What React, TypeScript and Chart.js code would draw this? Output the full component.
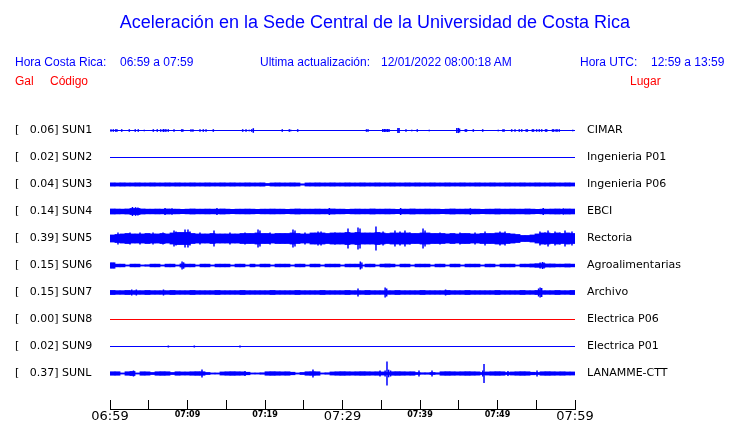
import React, { useEffect, useRef } from 'react';
import { Chart, registerables } from 'chart.js';

Chart.register(...registerables);

// ---------------- data ----------------
const STATION_CODES = ['SUN1', 'SUN2', 'SUN3', 'SUN4', 'SUN5', 'SUN6', 'SUN7', 'SUN8', 'SUN9', 'SUNL'];
const STATION_PLACES = ['CIMAR', 'Ingenieria P01', 'Ingenieria P06', 'EBCI', 'Rectoria', 'Agroalimentarias', 'Archivo', 'Electrica P06', 'Electrica P01', 'LANAMME-CTT'];
const PEAK_GAL = [0.06, 0.02, 0.04, 0.14, 0.39, 0.15, 0.15, 0.0, 0.02, 0.37];
const TIME_TICK_LABELS = ['06:59', '07:09', '07:19', '07:29', '07:39', '07:49', '07:59'];
const WINDOW_MINUTES = 60;

// continuous band: half amplitude (mGal) for each equal time bin across the window
const SUN1_BAND: number[] = [];
const SUN2_BAND: number[] = [];
const SUN3_BAND = [
  50, 47, 50, 47, 47, 50, 47, 47, 50, 47,
  47, 50, 47, 50, 47, 47, 50, 47, 47, 50,
  47, 47, 50, 47, 50, 47, 47, 50, 47, 47,
  50, 31, 47, 50, 47, 47, 50, 47, 20, 47,
  47, 50, 47, 47, 50, 47, 47, 50, 47, 47,
  50, 47, 47, 50, 47, 47, 50, 47, 47, 50,
  47, 50, 47, 47, 50, 47, 47, 50, 47, 47,
  50, 47, 47, 50, 47, 47, 50, 47, 47, 50,
  47, 47, 50, 47, 47, 50, 47, 47, 50, 47,
  47, 50, 47,
];
const SUN4_BAND = [
  78, 75, 72, 78, 94, 94, 78, 72, 72, 75,
  72, 78, 72, 72, 66, 72, 78, 72, 72, 75,
  72, 72, 78, 72, 66, 72, 72, 75, 72, 66,
  72, 72, 75, 72, 72, 66, 72, 78, 72, 72,
  72, 75, 72, 72, 78, 72, 72, 66, 72, 75,
  72, 72, 78, 72, 72, 75, 72, 66, 72, 72,
  78, 72, 72, 75, 72, 72, 66, 72, 78, 72,
  72, 75, 72, 72, 66, 72, 72, 78, 72, 72,
  75, 72, 72, 78, 72, 66, 72, 72, 75, 78,
  72, 78, 75,
];
const SUN5_BAND = [
  109, 125, 141, 156, 141, 141, 141, 156, 141, 141,
  156, 141, 172, 188, 188, 188, 156, 141, 141, 141,
  156, 141, 141, 141, 141, 141, 156, 156, 156, 172,
  156, 156, 141, 156, 156, 156, 172, 156, 141, 141,
  172, 172, 172, 156, 172, 172, 172, 188, 172, 188,
  172, 172, 172, 188, 172, 156, 172, 172, 172, 172,
  156, 156, 172, 172, 156, 156, 156, 141, 156, 141,
  156, 156, 141, 141, 156, 156, 156, 172, 172, 156,
  141, 125, 94, 94, 109, 141, 172, 172, 156, 172,
  156, 172, 156,
];
const SUN6_BAND = [
  84, 41, 41, 16, 41, 41, 16, 22, 41, 41,
  16, 41, 41, 16, 47, 41, 41, 16, 41, 41,
  16, 41, 41, 41, 16, 41, 41, 16, 41, 22,
  41, 41, 16, 41, 41, 41, 16, 41, 41, 16,
  41, 41, 16, 41, 41, 41, 16, 41, 41, 41,
  16, 41, 41, 16, 41, 47, 41, 16, 41, 41,
  16, 41, 41, 41, 16, 41, 41, 16, 41, 41,
  16, 41, 41, 41, 16, 41, 41, 16, 41, 41,
  41, 16, 41, 41, 47, 56, 56, 47, 47, 41,
  41, 47, 41,
];
const SUN7_BAND = [
  63, 56, 56, 63, 56, 56, 56, 63, 56, 56,
  56, 56, 63, 56, 56, 56, 63, 56, 56, 56,
  56, 63, 56, 56, 56, 56, 63, 56, 56, 56,
  56, 56, 63, 56, 56, 56, 56, 63, 56, 56,
  56, 56, 63, 56, 56, 56, 56, 63, 56, 56,
  56, 63, 56, 56, 56, 56, 56, 63, 56, 56,
  56, 56, 63, 56, 56, 56, 56, 63, 56, 56,
  56, 63, 56, 56, 56, 56, 56, 63, 56, 56,
  56, 56, 63, 56, 56, 63, 56, 56, 56, 63,
  56, 56, 63,
];
const SUN8_BAND: number[] = [];
const SUN9_BAND: number[] = [];
const SUNL_BAND = [
  53, 53, 16, 53, 63, 16, 53, 50, 31, 53,
  56, 53, 31, 53, 47, 47, 53, 56, 53, 31,
  16, 16, 47, 53, 56, 53, 50, 38, 16, 16,
  22, 53, 56, 53, 50, 53, 38, 16, 31, 53,
  56, 53, 16, 22, 47, 53, 56, 53, 50, 53,
  56, 53, 50, 53, 47, 31, 53, 56, 53, 50,
  53, 31, 22, 22, 31, 22, 53, 56, 53, 50,
  53, 56, 53, 50, 31, 47, 53, 56, 53, 31,
  47, 53, 56, 53, 38, 31, 53, 56, 53, 50,
  53, 47, 47,
];

// short transient spikes: [minute after 06:59, half amplitude mGal]
const SUN1_SPIKES: [number, number][] = [
  [0.13, 41], [0.43, 41], [0.74, 41], [0.9, 41], [1.51, 41], [2.49, 41], [3.26, 41], [3.65, 41], [4.43, 25],
  [5.59, 41], [6.1, 41], [6.54, 41], [6.88, 47], [7.1, 41], [7.23, 41], [7.52, 41], [8.26, 41], [9.25, 41],
  [9.4, 41], [10.45, 41], [10.7, 41], [11.61, 41], [12.04, 41], [12.39, 41], [13.33, 41], [17.12, 41],
  [17.55, 41], [17.97, 25], [18.28, 41], [18.49, 72], [22.23, 41], [23.14, 41], [23.32, 25], [24.22, 41],
  [33.1, 41], [33.3, 41], [35.2, 47], [35.4, 47], [35.6, 47], [35.8, 47], [36.0, 47], [37.15, 80], [37.3, 80],
  [38.19, 41], [38.93, 25], [39.65, 41], [41.2, 25], [44.75, 80], [44.95, 80], [45.1, 60], [45.85, 41],
  [46.0, 41], [46.88, 41], [48.09, 41], [50.1, 25], [50.7, 41], [50.85, 41], [51.83, 41], [52.26, 41],
  [52.81, 41], [53.12, 41], [53.7, 41], [53.85, 41], [54.5, 41], [54.65, 41], [55.05, 41], [55.39, 41],
  [55.7, 41], [56.2, 41], [56.35, 41], [57.1, 41], [57.25, 41], [57.55, 41], [57.7, 41], [57.97, 41], [59.7, 25],
];
const SUN2_SPIKES: [number, number][] = [];
const SUN3_SPIKES: [number, number][] = [];
const SUN4_SPIKES: [number, number][] = [
  [2.9, 141], [3.3, 135], [3.6, 125], [7.1, 110], [8.0, 100], [13.8, 110], [28.3, 110], [37.5, 110],
  [46.5, 100], [55.9, 110], [58.5, 100],
];
const SUN5_SPIKES: [number, number][] = [
  [1.03, 188], [2.58, 188], [3.87, 188], [5.55, 188], [6.84, 188], [8.26, 250], [8.52, 219], [9.68, 281],
  [10.06, 281], [10.32, 219], [11.61, 188], [13.42, 250], [15.48, 188], [17.42, 188], [19.1, 281], [19.35, 250],
  [20.65, 188], [23.61, 281], [23.87, 250], [25.16, 188], [26.84, 219], [27.23, 219], [29.03, 188], [30.71, 313],
  [32.0, 344], [32.26, 313], [34.32, 375], [35.23, 219], [36.77, 250], [37.42, 219], [38.06, 250], [38.71, 188],
  [40.39, 313], [40.65, 250], [42.58, 188], [45.16, 188], [47.1, 188], [48.39, 219], [50.32, 219], [50.97, 219],
  [55.48, 219], [56.13, 188], [56.52, 250], [57.42, 219], [58.06, 188], [58.71, 250], [59.61, 219],
];
const SUN6_SPIKES: [number, number][] = [
  [0.2, 84], [0.45, 84], [9.3, 125], [9.5, 100], [32.3, 125], [32.5, 94], [55.5, 94], [55.8, 110], [56.0, 94],
];
const SUN7_SPIKES: [number, number][] = [
  [2.8, 94], [3.4, 94], [6.9, 94], [32.0, 125], [35.5, 156], [35.7, 125], [43.3, 94], [55.3, 125], [55.5, 156], [55.7, 141],
];
const SUN8_SPIKES: [number, number][] = [];
const SUN9_SPIKES: [number, number][] = [[7.53, 31], [10.88, 31], [16.77, 31]];
const SUNL_SPIKES: [number, number][] = [
  [3.03, 94], [11.87, 125], [17.42, 78], [26.19, 125], [34.84, 94], [35.5, 94], [35.74, 375], [35.95, 120],
  [36.2, 94], [39.87, 94], [41.55, 94], [48.1, 94], [48.26, 300], [51.35, 78], [55.1, 94],
];

const BANDS = [SUN1_BAND, SUN2_BAND, SUN3_BAND, SUN4_BAND, SUN5_BAND, SUN6_BAND, SUN7_BAND, SUN8_BAND, SUN9_BAND, SUNL_BAND];
const SPIKES = [SUN1_SPIKES, SUN2_SPIKES, SUN3_SPIKES, SUN4_SPIKES, SUN5_SPIKES, SUN6_SPIKES, SUN7_SPIKES, SUN8_SPIKES, SUN9_SPIKES, SUNL_SPIKES];

// ---------------- style ----------------
const BLUE = '#0000ff';
const RED = '#ff0000';
const TRACE_COLORS = [BLUE, BLUE, BLUE, BLUE, BLUE, BLUE, BLUE, RED, BLUE, BLUE];
const ROW_STEP = 843.75; // mGal between trace rows
const FONT = 'DejaVu Sans';
const HEAD_FONT = 'Liberation Sans';

export default function App() {
  const ref = useRef<HTMLCanvasElement>(null);

  useEffect(() => {
    const canvas = ref.current;
    if (!canvas) return;
    const n = STATION_CODES.length;
    const rowValue = (k: number) => (n - 1 - k) * ROW_STEP;
    const datasets: any[] = [];
    for (let k = 0; k < n; k++) {
      const row = rowValue(k);
      const color = TRACE_COLORS[k];
      datasets.push({
        type: 'line',
        data: [{ x: 0, y: row }, { x: WINDOW_MINUTES, y: row }],
        borderColor: color,
        borderWidth: 1,
        pointRadius: 0,
        xAxisID: 'x',
        yAxisID: 'y',
      });
      const band = BANDS[k];
      if (band.length) {
        const w = WINDOW_MINUTES / band.length;
        datasets.push({
          type: 'bar',
          data: band.map((a, i) => ({ x: (i + 0.5) * w, y: [row - a, row + a] })),
          backgroundColor: color,
          borderWidth: 0,
          barThickness: 5,
          grouped: false,
          inflateAmount: 0.4,
          xAxisID: 'x',
          yAxisID: 'y',
        });
      }
      const sp = SPIKES[k];
      if (sp.length) {
        datasets.push({
          type: 'bar',
          data: sp.map(([t, a]) => ({ x: t, y: [row - a, row + a] })),
          backgroundColor: color,
          borderWidth: 0,
          barThickness: 1.5,
          grouped: false,
          inflateAmount: 0,
          xAxisID: 'x',
          yAxisID: 'y',
        });
      }
    }

    const yMax = (n - 1) * ROW_STEP + (18.5 / 27) * ROW_STEP;
    const yMin = yMax - 11 * ROW_STEP;
    const rowTicks = (scale: any) => {
      const t: any[] = [];
      for (let k = n - 1; k >= 0; k--) t.push({ value: rowValue(k) });
      scale.ticks = t;
    };
    const idx = (v: number) => n - 1 - Math.round(v / ROW_STEP);

    const chart = new Chart(canvas, {
      type: 'bar',
      data: { datasets },
      options: {
        animation: false,
        responsive: false,
        devicePixelRatio: 1,
        layout: { padding: { left: 15, right: 0, top: 112, bottom: 0 } },
        plugins: { legend: { display: false }, tooltip: { enabled: false }, title: { display: false } },
        scales: {
          x: {
            type: 'linear',
            min: 0,
            max: WINDOW_MINUTES,
            offset: false,
            afterFit: (s: any) => { s.height = 14; },
            grid: { display: true, drawOnChartArea: false, drawTicks: true, tickLength: -9, color: '#000', lineWidth: 1, offset: false },
            border: { display: true, color: '#000', width: 1 },
            ticks: {
              stepSize: 5,
              autoSkip: false,
              maxRotation: 0,
              padding: 9,
              color: '#000',
              font: (ctx: any) => (ctx.tick && ctx.tick.value % 30 === 0)
                ? { family: FONT, size: 13, lineHeight: 1.1 }
                : { family: FONT, size: 8, weight: 'bold', lineHeight: 1.5 },
              callback: (v: any) => (Number(v) % 10 === 0 ? TIME_TICK_LABELS[Number(v) / 10] : ''),
            },
          },
          y: {
            type: 'linear',
            position: 'left',
            min: yMin,
            max: yMax,
            afterBuildTicks: rowTicks,
            afterFit: (s: any) => { s.width = 95; s.paddingTop = 0; s.paddingBottom = 0; },
            grid: { display: false, drawTicks: false },
            border: { display: false },
            ticks: {
              autoSkip: false,
              crossAlign: 'far',
              padding: 0,
              color: '#000',
              font: { family: FONT, size: 11 },
              callback: (v: any) => {
                const k = idx(Number(v));
                return `[   ${PEAK_GAL[k].toFixed(2)}] ${STATION_CODES[k]}`;
              },
            },
          },
          yRight: {
            type: 'linear',
            position: 'right',
            min: yMin,
            max: yMax,
            afterBuildTicks: rowTicks,
            afterFit: (s: any) => { s.width = 165; s.paddingTop = 0; s.paddingBottom = 0; },
            grid: { display: false, drawTicks: false },
            border: { display: false },
            ticks: {
              autoSkip: false,
              crossAlign: 'near',
              padding: 12,
              color: '#000',
              font: { family: FONT, size: 11 },
              callback: (v: any) => STATION_PLACES[idx(Number(v))],
            },
          },
        },
      } as any,
    });
    return () => chart.destroy();
  }, []);

  const txt = (left: number, top: number, color: string, size: number, s: string, center = false) => (
    <div
      style={{
        position: 'absolute',
        left: center ? left : left,
        width: center ? 740 : undefined,
        textAlign: center ? 'center' : 'left',
        top,
        color,
        fontFamily: HEAD_FONT,
        fontSize: size,
        lineHeight: 1,
        whiteSpace: 'pre',
      }}
    >
      {s}
    </div>
  );

  return (
    <div style={{ position: 'absolute', left: 0, top: 0, width: 740, height: 423, background: '#fff', overflow: 'hidden' }}>
      <canvas ref={ref} width={740} height={423} style={{ position: 'absolute', left: 0, top: 0, width: 740, height: 423 }} />
      {txt(5, 13, BLUE, 18, 'Aceleración en la Sede Central de la Universidad de Costa Rica', true)}
      {txt(15, 56, BLUE, 12, 'Hora Costa Rica:')}
      {txt(120, 56, BLUE, 12, '06:59 a 07:59')}
      {txt(260, 56, BLUE, 12, 'Ultima actualización:')}
      {txt(381, 56, BLUE, 12, '12/01/2022 08:00:18 AM')}
      {txt(580, 56, BLUE, 12, 'Hora UTC:')}
      {txt(651, 56, BLUE, 12, '12:59 a 13:59')}
      {txt(15, 75, RED, 12, 'Gal')}
      {txt(50, 75, RED, 12, 'Código')}
      {txt(630, 75, RED, 12, 'Lugar')}
    </div>
  );
}
